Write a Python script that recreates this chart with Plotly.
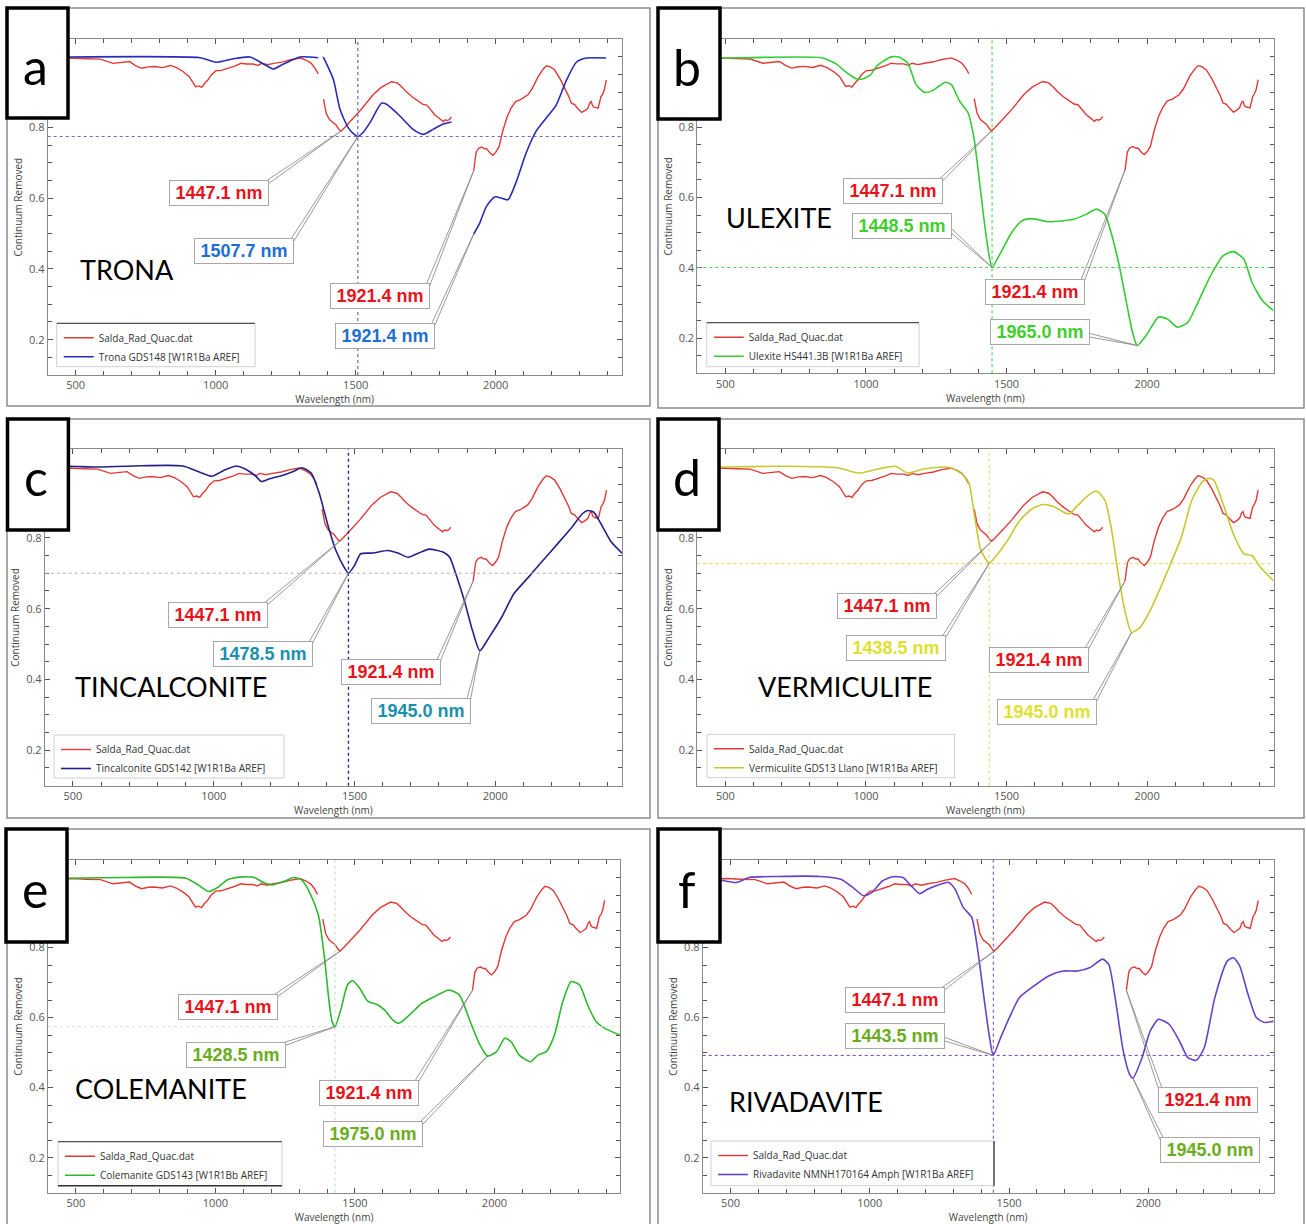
import math
import plotly.graph_objects as go

W, H = 1306, 1224

# ---------------- data ----------------
SALDA_WL = [430, 485, 540, 588, 633, 660, 692, 715, 736, 760, 780, 810, 839, 860, 883, 905, 920, 928, 940, 950, 960, 972, 985,
            1001, 1020, 1046, 1070, 1090, 1110, 1134, 1150, 1164, 1185, 1208, 1240, 1267, 1290, 1304, 1325, 1341, 1355, 1366,
            None,
            1385, 1395, 1407, 1418, 1429, 1440, 1447.1, 1460, 1473, 1495, 1518, 1540, 1562, 1591, 1610, 1628, 1640, 1650,
            1665, 1680, 1700, 1724, 1740, 1754, 1770, 1783, 1800, 1813, 1820, 1827, 1835, 1842,
            None,
            1921.4, 1930, 1938, 1950, 1960, 1967, 1980, 1990, 2000, 2012, 2025, 2041, 2055, 2071, 2090, 2115, 2130, 2152,
            2170, 2181, 2195, 2211, 2230, 2248, 2260, 2270, 2282, 2292, 2307, 2318, 2329, 2336, 2341, 2346, 2351, 2366,
            2376, 2382, 2388, 2395]
SALDA_CR = [0.995, 0.997, 0.995, 0.994, 0.982, 0.985, 0.987, 0.975, 0.968, 0.972, 0.973, 0.970, 0.976, 0.970, 0.959, 0.945,
            0.925, 0.916, 0.918, 0.914, 0.925, 0.935, 0.950,
            0.961, 0.962, 0.968, 0.975, 0.982, 0.980, 0.980, 0.976, 0.982, 0.978, 0.982, 0.986, 0.992, 0.995, 0.997, 0.990,
            0.982, 0.968, 0.952,
            None,
            0.881, 0.840, 0.822, 0.815, 0.808, 0.795, 0.790, 0.800, 0.812, 0.830, 0.850, 0.872, 0.893, 0.914, 0.922, 0.930,
            0.928, 0.926, 0.915, 0.902, 0.888, 0.874, 0.866, 0.864, 0.850, 0.836, 0.825, 0.817, 0.822, 0.820, 0.823, 0.830,
            None,
            0.678, 0.730, 0.741, 0.745, 0.740, 0.741, 0.728, 0.722, 0.730, 0.746, 0.790, 0.831, 0.855, 0.874, 0.880, 0.893,
            0.910, 0.945, 0.966, 0.975, 0.972, 0.963, 0.938, 0.911, 0.890, 0.869, 0.865, 0.855, 0.843, 0.848, 0.855, 0.870,
            0.874, 0.862, 0.858, 0.855, 0.888, 0.895, 0.907, 0.935]

TRONA_WL = [430, 481, 944, 1004, 1063, 1123, 1182, 1206, 1242, 1301, 1366, None,
            1384, 1420, 1444, 1473, 1495, 1507.7, 1530, 1551, 1592, 1610, 1658, 1705, 1741, 1776, 1812, 1842, None,
            1921.4, 1943, 1967, 1996, 2020, 2044, 2074, 2109, 2145, 2181, 2216, 2252, 2288, 2323, 2394]
TRONA_CR = [1.0, 1.0, 0.998, 0.985, 0.995, 1.0, 0.975, 0.966, 0.98, 1.0, 0.998, None,
            1.0, 0.937, 0.852, 0.80, 0.781, 0.775, 0.79, 0.814, 0.869, 0.866, 0.833, 0.795, 0.781, 0.795, 0.81, 0.816, None,
            0.499, 0.53, 0.577, 0.604, 0.601, 0.596, 0.648, 0.729, 0.791, 0.828, 0.864, 0.933, 0.985, 0.997, 0.997]

ULEXITE_WL = [430, 485, 839, 870, 898, 920, 942, 965, 987, 1016, 1040, 1060, 1090, 1119, 1149, 1178, 1208, 1237, 1282,
              1304, 1333, 1363, 1385, 1407, 1429, 1448.5, 1473, 1518, 1555, 1591, 1650, 1739, 1783, 1820, 1850, 1872,
              1901, 1931, 1950, 1965, 1997, 2041, 2071, 2108, 2145, 2181, 2226, 2270, 2307, 2344, 2373, 2410, 2450]
ULEXITE_CR = [0.997, 0.997, 0.998, 0.99, 0.978, 0.962, 0.949, 0.938, 0.937, 0.949, 0.975, 0.987, 1.0, 0.999, 0.982, 0.921,
              0.899, 0.904, 0.928, 0.921, 0.874, 0.841, 0.765, 0.623, 0.482, 0.401, 0.434, 0.5, 0.534, 0.54, 0.531, 0.538,
              0.552, 0.567, 0.552, 0.5, 0.406, 0.283, 0.21, 0.179, 0.208, 0.26, 0.255, 0.231, 0.245, 0.302, 0.378, 0.434,
              0.446, 0.425, 0.359, 0.307, 0.278]

TINCAL_WL = [430, 485, 581, 713, 890, 949, 993, 1037, 1081, 1110, 1147, 1169, 1199, 1243, 1287, 1313, 1346, 1375, 1404,
             1434, 1463, 1478.5, 1500, 1522, 1566, 1618, 1654, 1691, 1728, 1765, 1816, 1838, 1860, 1890, 1919, 1945,
             1978, 2022, 2066, 2118, 2169, 2221, 2272, 2309, 2328, 2349, 2375, 2412, 2450]
TINCAL_CR = [1.0, 1.002, 1.0, 1.003, 1.003, 0.986, 0.974, 0.991, 1.003, 0.995, 0.976, 0.959, 0.967, 0.976, 0.989, 0.998,
             0.983, 0.925, 0.84, 0.764, 0.717, 0.70, 0.722, 0.755, 0.757, 0.764, 0.757, 0.745, 0.757, 0.768, 0.759, 0.745,
             0.698, 0.623, 0.538, 0.481, 0.519, 0.575, 0.642, 0.689, 0.736, 0.783, 0.83, 0.868, 0.877, 0.873, 0.84,
             0.788, 0.757]

VERMIC_WL = [430, 485, 692, 898, 972, 1046, 1105, 1149, 1208, 1282, 1311, 1348, 1367, 1385, 1407, 1425, 1438.5, 1459,
             1503, 1547, 1591, 1628, 1665, 1709, 1724, 1754, 1791, 1820, 1850, 1872, 1901, 1925, 1945, 1975, 2019, 2071,
             2122, 2159, 2196, 2218, 2237, 2270, 2307, 2344, 2373, 2403, 2450]
VERMIC_CR = [1.0, 1.0, 1.002, 0.998, 0.983, 0.995, 1.002, 0.983, 0.995, 1.0, 0.995, 0.976, 0.953, 0.868, 0.769, 0.741,
             0.728, 0.745, 0.792, 0.849, 0.882, 0.894, 0.889, 0.87, 0.868, 0.892, 0.92, 0.932, 0.906, 0.83, 0.679, 0.58,
             0.533, 0.547, 0.608, 0.703, 0.802, 0.906, 0.958, 0.968, 0.963, 0.897, 0.811, 0.755, 0.75, 0.717, 0.679]

COLEM_WL = [430, 478, 671, 894, 938, 975, 1005, 1042, 1087, 1139, 1176, 1205, 1250, 1280, 1309, 1339, 1369, 1391, 1406,
            1418, 1428.5, 1451, 1473, 1491, 1517, 1547, 1577, 1606, 1636, 1658, 1696, 1740, 1785, 1837, 1874, 1911,
            1948, 1975, 2008, 2037, 2060, 2089, 2129, 2156, 2186, 2215, 2245, 2275, 2305, 2334, 2364, 2394, 2450]
COLEM_CR = [0.998, 0.998, 1.0, 0.998, 0.979, 0.96, 0.97, 0.993, 1.001, 1.0, 0.984, 0.979, 0.99, 1.0, 0.993, 0.955, 0.893,
            0.77, 0.655, 0.589, 0.574, 0.627, 0.693, 0.706, 0.684, 0.646, 0.638, 0.622, 0.593, 0.584, 0.608, 0.641,
            0.66, 0.679, 0.665, 0.593, 0.522, 0.49, 0.503, 0.541, 0.531, 0.493, 0.474, 0.493, 0.503, 0.55, 0.646,
            0.703, 0.693, 0.636, 0.589, 0.57, 0.55]

RIVAD_WL = [430, 463, 522, 567, 672, 821, 896, 940, 978, 1007, 1045, 1082, 1119, 1149, 1179, 1209, 1254, 1284, 1306,
            1336, 1366, 1388, 1410, 1430, 1443.5, 1470, 1507, 1537, 1582, 1642, 1694, 1746, 1791, 1836, 1858, 1881,
            1910, 1933, 1945, 1978, 2007, 2037, 2075, 2112, 2142, 2172, 2201, 2239, 2284, 2306, 2328, 2358, 2388,
            2418, 2450]
RIVAD_CR = [0.99, 0.992, 0.986, 1.0, 1.003, 1.003, 0.995, 0.971, 0.948, 0.957, 0.99, 1.002, 1.0, 0.976, 0.954, 0.967,
            0.981, 0.986, 0.967, 0.914, 0.886, 0.79, 0.657, 0.543, 0.492, 0.543, 0.61, 0.657, 0.686, 0.719, 0.733,
            0.733, 0.743, 0.767, 0.752, 0.657, 0.505, 0.438, 0.427, 0.486, 0.562, 0.595, 0.581, 0.533, 0.486, 0.478,
            0.514, 0.657, 0.762, 0.771, 0.748, 0.667, 0.6, 0.586, 0.59]

SALDA_NAME = "Salda_Rad_Quac.dat"
LETTERS = ["a", "b", "c", "d", "e", "f"]
MINERALS = ["TRONA", "ULEXITE", "TINCALCONITE", "VERMICULITE", "COLEMANITE", "RIVADAVITE"]
LEGEND_NAMES = ["Trona GDS148 [W1R1Ba AREF]", "Ulexite HS441.3B [W1R1Ba AREF]",
                "Tincalconite GDS142 [W1R1Ba AREF]", "Vermiculite GDS13 Llano [W1R1Ba AREF]",
                "Colemanite GDS143 [W1R1Bb AREF]", "Rivadavite NMNH170164 Amph [W1R1Ba AREF]"]
MIN_WL = [TRONA_WL, ULEXITE_WL, TINCAL_WL, VERMIC_WL, COLEM_WL, RIVAD_WL]
MIN_CR = [TRONA_CR, ULEXITE_CR, TINCAL_CR, VERMIC_CR, COLEM_CR, RIVAD_CR]

# crosshair (wavelength, value) per panel
CROSS = [(1507.7, 0.775), (1448.5, 0.401), (1478.5, 0.70), (1438.5, 0.727), (1428.5, 0.574), (1443.5, 0.492)]

# labels: (text, point wl, point cr, box wl, box cr, is_red, leader anchor on box)
LABELS = [
    [("1447.1 nm", 1447.1, 0.790, 1013, 0.614, True, "tr"), ("1507.7 nm", 1507.7, 0.775, 1102, 0.450, False, "tr"),
     ("1921.4 nm", 1921.4, 0.678, 1587, 0.324, True, "tr"), ("1921.4 nm", 1921.4, 0.499, 1605, 0.211, False, "tr")],
    [("1447.1 nm", 1447.1, 0.790, 1097, 0.619, True, "tr"), ("1448.5 nm", 1448.5, 0.401, 1127, 0.518, False, "r"),
     ("1921.4 nm", 1921.4, 0.678, 1600, 0.332, True, "tr"), ("1965.0 nm", 1965.0, 0.179, 1618, 0.218, False, "r")],
    [("1447.1 nm", 1447.1, 0.790, 1014, 0.582, True, "tr"), ("1478.5 nm", 1478.5, 0.700, 1174, 0.473, False, "tr"),
     ("1921.4 nm", 1921.4, 0.678, 1628, 0.422, True, "tr"), ("1945.0 nm", 1945.0, 0.481, 1735, 0.312, False, "tr")],
    [("1447.1 nm", 1447.1, 0.790, 1076, 0.607, True, "tr"), ("1438.5 nm", 1438.5, 0.728, 1106, 0.488, False, "tr"),
     ("1921.4 nm", 1921.4, 0.678, 1614, 0.455, True, "tr"), ("1945.0 nm", 1945.0, 0.533, 1643, 0.309, False, "tr")],
    [("1447.1 nm", 1447.1, 0.790, 1044, 0.631, True, "tr"), ("1428.5 nm", 1428.5, 0.574, 1072, 0.492, False, "tr"),
     ("1921.4 nm", 1921.4, 0.678, 1549, 0.386, True, "tr"), ("1975.0 nm", 1975.0, 0.490, 1566, 0.267, False, "tr")],
    [("1447.1 nm", 1447.1, 0.790, 1090, 0.650, True, "tr"), ("1443.5 nm", 1443.5, 0.492, 1092, 0.548, False, "r"),
     ("1921.4 nm", 1921.4, 0.678, 2216, 0.365, True, "tl"), ("1945.0 nm", 1945.0, 0.427, 2221, 0.222, False, "tl")],
]

X_TICKS = [500, 1000, 1500, 2000]
Y_TICKS = [0.2, 0.4, 0.6, 0.8]
X_RANGE = [400, 2450]
Y_RANGE = [0.1, 1.05]

# ---------------- styling / layout geometry (pixels) ----------------
RED = "#e03a36"
LABEL_RED = "#e8141b"
LINE_COLORS = ["#2a2ab8", "#33cc33", "#22228a", "#c8c830", "#2eb82e", "#6a40c8"]
TEXT_COLORS = ["#1f6ed4", "#3fcf2c", "#1a8fae", "#e0e030", "#6aac1c", "#6aac1c"]
VCROSS_COLORS = ["#4444cc", "#33cc33", "#22228a", "#d8d860", "#b8e0b8", "#6a40c8"]
HCROSS_COLORS = ["#6666cc", "#55cc55", "#b0b0c8", "#d8d860", "#dcdcdc", "#6a40c8"]

PLOT_BOX = [(47.7, 621.7, 39.3, 375), (697.3, 1273.6, 39.3, 373.3), (44.8, 622, 449.3, 785.7),
            (697.3, 1273.6, 449.3, 785.7), (48, 620, 860, 1192.7), (702.7, 1273.6, 860, 1192.7)]
OUTER_BOX = [(7, 650, 8, 406), (658, 1304, 8, 408), (7, 650, 419, 818), (658, 1304, 419, 818),
             (7, 650, 829, 1232), (658, 1304, 829, 1232)]
LETTER_BOX = [(7, 68, 8, 118), (658, 720, 8, 119), (7.5, 68.4, 419, 530), (658, 719, 419, 530),
              (6, 67, 829, 942), (658, 720, 829, 942)]
LEGEND_BOX = [(56.7, 255, 323.3, 366.7), (706.8, 919, 322.7, 366.7), (54, 284, 735, 778),
              (707, 954.5, 734.3, 777.7), (58, 282, 1141.7, 1185.7), (711, 994, 1141, 1185.7)]
MINERAL_POS = [(126.5, 269), (779, 217.3), (171, 686.7), (845, 686.7), (161, 1088.3), (806, 1101)]
BOX_HALF_W, BOX_HALF_H = 49, 12


def px(x):
    return x / W


def py(y):
    return 1 - y / H


fig = go.Figure()
shapes = []
annotations = []
layout = {}

for i in range(6):
    n = i + 1
    sfx = "" if n == 1 else str(n)
    xa, ya = "x" + sfx, "y" + sfx
    lg = "legend" + sfx
    x0, x1, y0, y1 = PLOT_BOX[i]
    sx = (x1 - x0) / (X_RANGE[1] - X_RANGE[0])
    sy = (y1 - y0) / (Y_RANGE[1] - Y_RANGE[0])

    fig.add_trace(go.Scatter(x=SALDA_WL, y=SALDA_CR, mode="lines", name=SALDA_NAME,
                             line=dict(color=RED, width=1.4), connectgaps=False,
                             xaxis=xa, yaxis=ya, legend=lg, hoverinfo="skip"))
    fig.add_trace(go.Scatter(x=MIN_WL[i], y=MIN_CR[i], mode="lines", name=LEGEND_NAMES[i],
                             line=dict(color=LINE_COLORS[i], width=1.6, shape="spline", smoothing=0.6),
                             connectgaps=False, xaxis=xa, yaxis=ya, legend=lg, hoverinfo="skip"))

    axis_common = dict(showline=True, linecolor="#8a8a8a", linewidth=1, mirror="ticks",
                       ticks="inside", ticklen=5, tickcolor="#555", zeroline=False, showgrid=False,
                       tickfont=dict(family="Open Sans", size=11, color="#555"))
    layout["xaxis" + sfx] = dict(axis_common, domain=[px(x0), px(x1)], anchor=ya, range=X_RANGE,
                                 tickvals=X_TICKS,
                                 minor=dict(dtick=100, tick0=0, ticks="inside", ticklen=4, tickcolor="#555"),
                                 title=dict(text="Wavelength (nm)", standoff=0,
                                            font=dict(family="Open Sans", size=10, color="#444")))
    layout["yaxis" + sfx] = dict(axis_common, domain=[py(y1), py(y0)], anchor=xa, range=Y_RANGE,
                                 tickvals=Y_TICKS, ticktext=["0.2", "0.4", "0.6", "0.8"],
                                 minor=dict(dtick=0.05, tick0=0, ticks="inside", ticklen=4, tickcolor="#555"),
                                 title=dict(text="Continuum Removed", standoff=4,
                                            font=dict(family="Open Sans", size=10, color="#444")))

    # crosshair dotted lines
    cw, cv = CROSS[i]
    shapes.append(dict(type="line", xref=xa, yref=ya + " domain", x0=cw, x1=cw, y0=0, y1=1,
                       line=dict(color=VCROSS_COLORS[i], width=1.3 if i == 2 else 1, dash="dot"), layer="above"))
    shapes.append(dict(type="line", xref=xa + " domain", yref=ya, x0=0, x1=1, y0=cv, y1=cv,
                       line=dict(color=HCROSS_COLORS[i], width=1, dash="dot"), layer="above"))

    # outer panel frame
    ox0, ox1, oy0, oy1 = OUTER_BOX[i]
    shapes.append(dict(type="rect", xref="paper", yref="paper", x0=px(ox0), x1=px(ox1), y0=py(oy1), y1=py(oy0),
                       line=dict(color="#8c8c8c", width=1.5), layer="below"))

    # legend box
    lx0, lx1, ly0, ly1 = LEGEND_BOX[i]
    shapes.append(dict(type="rect", xref="paper", yref="paper", x0=px(lx0), x1=px(lx1), y0=py(ly1), y1=py(ly0),
                       line=dict(color="#d0d0d0", width=1), fillcolor="white", layer="above"))
    if i in (0, 1, 4):
        shapes.append(dict(type="line", xref="paper", yref="paper", x0=px(lx0), x1=px(lx1), y0=py(ly0), y1=py(ly0),
                           line=dict(color="#555", width=1.3), layer="above"))
    if i == 4:
        shapes.append(dict(type="line", xref="paper", yref="paper", x0=px(lx0), x1=px(lx1), y0=py(ly1), y1=py(ly1),
                           line=dict(color="#333", width=1.5), layer="above"))
    if i == 5:
        shapes.append(dict(type="line", xref="paper", yref="paper", x0=px(lx1), x1=px(lx1), y0=py(ly1), y1=py(ly0),
                           line=dict(color="#333", width=1.3), layer="above"))
    layout[lg] = dict(x=px(lx0 + 2), y=py(ly0), xanchor="left", yanchor="top",
                      bgcolor="rgba(0,0,0,0)", borderwidth=0, itemwidth=30, tracegroupgap=0,
                      font=dict(family="Open Sans", size=10, color="#333"), traceorder="normal")

    # letter box
    bx0, bx1, by0, by1 = LETTER_BOX[i]
    shapes.append(dict(type="rect", xref="paper", yref="paper", x0=px(bx0), x1=px(bx1), y0=py(by1), y1=py(by0),
                       line=dict(color="black", width=3.5), fillcolor="white", layer="above"))
    annotations.append(dict(xref="paper", yref="paper", x=px((bx0 + bx1) / 2 - 2), y=py((by0 + by1) / 2 + 3),
                            text=LETTERS[i], showarrow=False, xanchor="center", yanchor="middle",
                            font=dict(family="Lato", size=50, color="black")))

    # mineral name
    mx, my = MINERAL_POS[i]
    annotations.append(dict(xref="paper", yref="paper", x=px(mx), y=py(my), text=MINERALS[i], showarrow=False,
                            xanchor="center", yanchor="middle",
                            font=dict(family="Lato", size=27, color="black")))

    # wavelength callouts with double-line leaders
    for (txt, pw, pc, bw, bc, is_red, anchor) in LABELS[i]:
        bxp = (bw - X_RANGE[0]) * sx
        byp = (Y_RANGE[1] - bc) * sy
        if anchor == "tr":
            ax_p, ay_p = bxp + BOX_HALF_W - 1, byp - BOX_HALF_H + 1
        elif anchor == "tl":
            ax_p, ay_p = bxp - BOX_HALF_W + 1, byp - BOX_HALF_H + 1
        else:
            ax_p, ay_p = bxp + BOX_HALF_W - 1, byp + 3
        tx_p = (pw - X_RANGE[0]) * sx
        ty_p = (Y_RANGE[1] - pc) * sy
        dx, dy = tx_p - ax_p, ty_p - ay_p
        ln = math.hypot(dx, dy) or 1.0
        nx, ny = -dy / ln, dx / ln
        pts = []
        for s in (-1.8, 1.8):
            qx, qy = ax_p + s * nx, ay_p + s * ny
            pts.append((X_RANGE[0] + qx / sx, Y_RANGE[1] - qy / sy))
        path = "M {:.3f},{:.5f} L {:.3f},{:.5f} L {:.3f},{:.5f}".format(pts[0][0], pts[0][1], pw, pc,
                                                                       pts[1][0], pts[1][1])
        shapes.append(dict(type="path", xref=xa, yref=ya, path=path,
                           line=dict(color="#808080", width=0.8), layer="above"))
        annotations.append(dict(xref=xa, yref=ya, x=bw, y=bc, text=txt, showarrow=False,
                                xanchor="center", yanchor="middle",
                                bgcolor="white", bordercolor="#a8a8a8", borderwidth=1,
                                borderpad=2, width=94,
                                font=dict(family="Liberation Sans, Arial", size=18, weight="bold",
                                          color=LABEL_RED if is_red else TEXT_COLORS[i])))

fig.update_layout(**layout)
fig.update_layout(width=W, height=H, margin=dict(l=0, r=0, t=0, b=0), paper_bgcolor="white",
                  plot_bgcolor="white", shapes=shapes, annotations=annotations, showlegend=True)

fig.write_html("out.html")
